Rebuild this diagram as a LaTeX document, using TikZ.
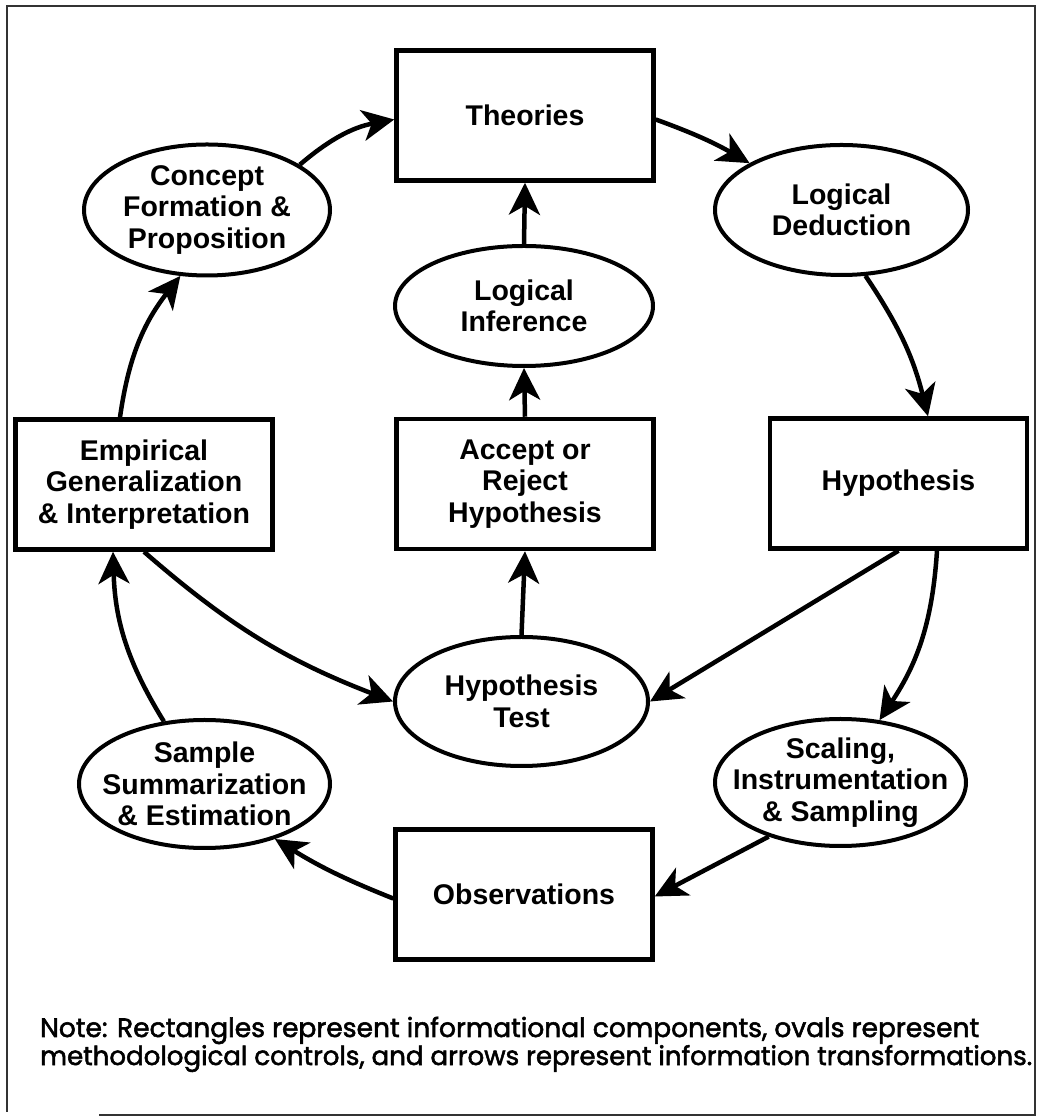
\documentclass[tikz,border=0pt]{standalone}
\usepackage{fontspec}
\usepackage{graphicx}
\setmainfont{Liberation Sans}
\newfontfamily\notefont[FakeBold=2]{Poppins}
\usetikzlibrary{shapes.geometric,arrows.meta}
\newcommand{\lbfont}{\fontsize{28.5}{31.5}\selectfont\bfseries}
\begin{document}
\begin{tikzpicture}[x=1pt,y=1pt,
  rbox/.style={draw, line width=4.5pt, rectangle, minimum width=257pt, minimum height=130pt, inner sep=0pt, align=center, font=\lbfont},
  oval/.style={draw, line width=4pt, ellipse, inner sep=0pt},
  lab/.style={align=center, font=\lbfont, inner sep=0pt},
  arr/.style={line width=4.5pt, -{Stealth[length=32pt,width=31pt,inset=9pt]}},
  frame/.style={line width=1.5pt, black!80}]
\useasboundingbox (0,0) rectangle (1037,1117);
\draw[frame] (99,2) -- (1035,2) -- (1035,1111) -- (7,1111) -- (7,5);

\node[rbox] (theo) at (525,1001.5) {Theories};
\node[oval, minimum width=246pt, minimum height=131pt] (conc) at (207,907) {};
\node[lab] (conct) at (conc) {Concept\\Formation \&\\Proposition};
\node[oval, minimum width=253pt, minimum height=130pt] (ded) at (841.5,907) {};
\node[lab] (dedt) at (ded) {Logical\\Deduction};
\node[oval, minimum width=258pt, minimum height=120pt] (inf) at (524,811) {};
\node[lab] (inft) at (inf) {Logical\\Inference};
\node[rbox] (emp) at (144,632.5) {Empirical\\Generalization\\\& Interpretation};
\node[rbox] (acc) at (525,633) {Accept or\\Reject\\Hypothesis};
\node[rbox] (hyp) at (898.5,633.5) {Hypothesis};
\node[oval, minimum width=253pt, minimum height=129pt] (ht) at (521.5,415.5) {};
\node[lab] (htt) at (ht) {Hypothesis\\Test};
\node[oval, minimum width=251pt, minimum height=128pt] (samp) at (204.5,333) {};
\node[lab] (sampt) at (samp) {Sample\\Summarization\\\& Estimation};
\node[oval, minimum width=251pt, minimum height=127pt] (scal) at (840.5,334.5) {};
\node[lab] (scalt) at (scal) {Scaling,\\Instrumentation\\\& Sampling};
\node[rbox] (obs) at (524,222.5) {Observations};

\draw[arr] (conc.26) to[bend left=15] ([yshift=-4pt]theo.west);
\draw[arr] ([yshift=-4pt]theo.east) to[bend left=5] (ded.153);
\draw[arr] (ded.-70) to[bend left=10] ([xshift=29.5pt]hyp.north);
\draw[arr] (hyp.south) -- (ht.east);
\draw[arr] ([xshift=38.5pt]hyp.south) to[bend left=15] (scal.58);
\draw[arr] (scal.217) -- ([yshift=-2pt]obs.east);
\draw[arr] ([yshift=-4pt]obs.west) to[bend left=5] (samp.-38);
\draw[arr] (samp.123) to[bend left=15] ([xshift=-31pt]emp.south);
\draw[arr] (emp.south) to[bend right=10] (ht.west);
\draw[arr] ([xshift=-24pt]emp.north) to[bend left=15] (conc.248);
\draw[arr] (inf.north) -- (theo.south);
\draw[arr] (acc.north) -- (inf.south);
\draw[arr] (ht.north) -- (acc.south);

\node[anchor=base west, inner sep=0pt] (note1) at (40,80) {\resizebox{939pt}{!}{\notefont Note: Rectangles represent informational components, ovals represent}};
\node[anchor=base west, inner sep=0pt] (note2) at (40,52) {\resizebox{992pt}{!}{\notefont methodological controls, and arrows represent information transformations.}};
\end{tikzpicture}
\end{document}
